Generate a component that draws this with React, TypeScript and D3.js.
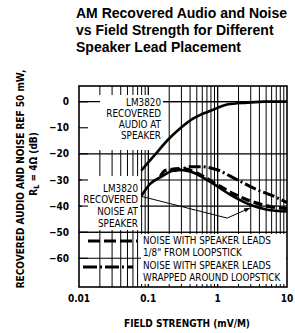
import * as React from 'react';
import * as d3 from 'd3';

// field strength (mV/M) vs recovered level (dB)
const audioField = [0.079, 0.125, 0.192, 0.286, 0.44, 0.86, 1.37, 2.65, 4.8, 10];
const audioDb = [-26.4, -20.3, -14.6, -10.3, -6.5, -3.1, -1.1, -0.4, 0, 0];

const noiseField = [0.08, 0.106, 0.148, 0.26, 0.4, 0.78, 1.51, 2.94, 5.2, 10];
const noiseDb = [-36.0, -31.5, -29.0, -26.1, -26.8, -30.7, -35.6, -39.5, -41.4, -42.1];

const closeField = [0.15, 0.174, 0.317, 0.557, 0.98, 1.78, 3.47, 5.7, 10];
const closeDb = [-28.6, -26.4, -25.7, -28.0, -31.8, -35.6, -38.7, -40.2, -41.0];

const wrappedField = [0.2, 0.286, 0.4, 0.557, 0.98, 1.9, 3.7, 7.2, 10];
const wrappedDb = [-26.5, -26.1, -24.9, -24.9, -26.1, -29.9, -33.7, -36.8, -38.7];

const xTicks = [0.01, 0.1, 1, 10];
const xTickLabels = ['0.01', '0.1', '1', '10'];
const yTicks = [0, -10, -20, -30, -40, -50, -60];
const yGrid = [0, -20, -30, -40, -50, -60];

const titleLines = [
  'AM Recovered Audio and Noise',
  'vs Field Strength for Different',
  'Speaker Lead Placement',
];
const audioLabel = ['LM3820', 'RECOVERED', 'AUDIO AT', 'SPEAKER'];
const noiseLabel = ['LM3820', 'RECOVERED', 'NOISE AT', 'SPEAKER'];
const legendLines = [
  'NOISE WITH SPEAKER LEADS',
  '1/8" FROM LOOPSTICK',
  'NOISE WITH SPEAKER LEADS',
  'WRAPPED AROUND LOOPSTICK',
];
// leader from noise label: start, vertex, arrow tip (field, dB)
const leaderField = [0.08, 1.37, 2.94];
const leaderDb = [-36.3, -44.6, -40.7];

const W = 295, H = 333;
const left = 79, right = 287, top = 86, bottom = 287;
const cond = "'DejaVu Sans Condensed', 'DejaVu Sans', sans-serif";

export default function App() {
  const x = d3.scaleLog().domain([0.01, 10]).range([left, right]);
  const y = d3.scaleLinear().domain([-71, 6]).range([bottom, top]);

  const line = d3.line<[number, number]>()
    .x(d => x(d[0]))
    .y(d => y(d[1]))
    .curve(d3.curveMonotoneX);

  const zip = (a: number[], b: number[]) => a.map((v, i) => [v, b[i]] as [number, number]);

  const vGrid: number[] = [];
  [0.01, 0.1, 1].forEach(dec => {
    for (let m = 1; m <= 9; m++) {
      const v = dec * m;
      if (v > 0.01 && v < 10) vGrid.push(v);
    }
  });

  const leader = zip(leaderField, leaderDb).map(d => [x(d[0]), y(d[1])]);
  const ang = Math.atan2(leader[2][1] - leader[1][1], leader[2][0] - leader[1][0]);
  const tip = leader[2];
  const ah = 6, aw = 2.2;
  const arrow = [
    [tip[0], tip[1]],
    [tip[0] - ah * Math.cos(ang) + aw * Math.sin(ang), tip[1] - ah * Math.sin(ang) - aw * Math.cos(ang)],
    [tip[0] - ah * Math.cos(ang) - aw * Math.sin(ang), tip[1] - ah * Math.sin(ang) + aw * Math.cos(ang)],
  ];

  const labelFs = 9.8;

  return (
    <svg width={W} height={H} style={{ position: 'absolute', left: 0, top: 0, background: '#fff' }}>
      {titleLines.map((t, i) => (
        <text key={t} x={76} y={18 + i * 17} fontFamily="'Liberation Sans', Arial, sans-serif"
          fontWeight="bold" fontSize={14} fill="#000">{t}</text>
      ))}

      {/* grid */}
      <g stroke="#000">
        {vGrid.map(v => (
          <line key={v} x1={x(v)} x2={x(v)} y1={top} y2={bottom}
            strokeWidth={[0.1, 1].includes(v) ? 1.3 : 1} />
        ))}
        {yGrid.map(v => (
          <line key={v} x1={left} x2={right} y1={y(v)} y2={y(v)} strokeWidth={1.1} />
        ))}
      </g>

      {/* label boxes */}
      <rect x={88} y={95} width={75} height={55} fill="#fff" />
      <rect x={82} y={176} width={58} height={54} fill="#fff" />
      <rect x={141} y={234} width={145} height={50} fill="#fff" />

      <g stroke="#000">
        {yTicks.map(v => (
          <line key={v} x1={left} x2={left + 9} y1={y(v)} y2={y(v)} strokeWidth={1.1} />
        ))}
        <line x1={left} x2={right} y1={y(0)} y2={y(0)} strokeWidth={1.1} />
        <line x1={left} x2={right} y1={y(-50)} y2={y(-50)} strokeWidth={1.1} />
      </g>
      <rect x={100} y={97} width={63} height={10} fill="#fff" />

      {/* audio label */}
      <g fontFamily={cond} fontSize={labelFs} textAnchor="end" fill="#000">
        {audioLabel.map((t, i) => (
          <text key={i} x={161} y={105.5 + i * 11.3}>{t}</text>
        ))}
        {noiseLabel.map((t, i) => (
          <text key={'n' + i} x={138} y={191.5 + i * 11.8}>{t}</text>
        ))}
      </g>

      {/* curves */}
      <g fill="none" stroke="#000">
        <path d={line(zip(audioField, audioDb)) || ''} strokeWidth={2.6} />
        <path d={line(zip(noiseField, noiseDb)) || ''} strokeWidth={2.6} />
        <path d={line(zip(closeField, closeDb)) || ''} strokeWidth={3.4} strokeDasharray="9 4" />
        <path d={line(zip(wrappedField, wrappedDb)) || ''} strokeWidth={3} strokeDasharray="12 3 2 3" />
        <polyline points={leader.map(p => p.join(',')).join(' ')} strokeWidth={1} />
      </g>
      <polygon points={arrow.map(p => p.join(',')).join(' ')} fill="#000" />

      {/* legend */}
      <g fill="none" stroke="#000">
        <line x1={88} x2={137} y1={241} y2={241} strokeWidth={3} strokeDasharray="12 4" />
        <line x1={83} x2={133} y1={267} y2={267} strokeWidth={3} strokeDasharray="14 3 2 3" />
      </g>
      <g fontFamily={cond} fontSize={labelFs} fill="#000">
        {legendLines.map((t, i) => (
          <text key={i} x={143} y={243.5 + i * 12.3 + (i >= 2 ? 0.5 : 0)}>{t}</text>
        ))}
      </g>

      {/* frame */}
      <rect x={left} y={top} width={right - left} height={bottom - top} fill="none" stroke="#000" strokeWidth={1.6} />

      {/* axes labels */}
      <g fontFamily={cond} fontWeight="bold" fontSize={10} fill="#000">
        {xTicks.map((v, i) => (
          <text key={v} x={x(v)} y={302} textAnchor="middle">{xTickLabels[i]}</text>
        ))}
        {yTicks.map(v => (
          <text key={v} x={69} y={y(v) + 3.6} textAnchor="end">{v === 0 ? '0' : '\u2212' + Math.abs(v)}</text>
        ))}
        <text x={187} y={327} textAnchor="middle">FIELD STRENGTH (mV/M)</text>
        <text transform="translate(23.6,179) rotate(-90)" textAnchor="middle">RECOVERED AUDIO AND NOISE REF 50 mW,</text>
        <text transform="translate(36.6,164) rotate(-90)" textAnchor="middle">
          R<tspan fontSize={7.5} dy={2}>L</tspan><tspan dy={-2}> = 4Ω (dB)</tspan>
        </text>
      </g>
    </svg>
  );
}
